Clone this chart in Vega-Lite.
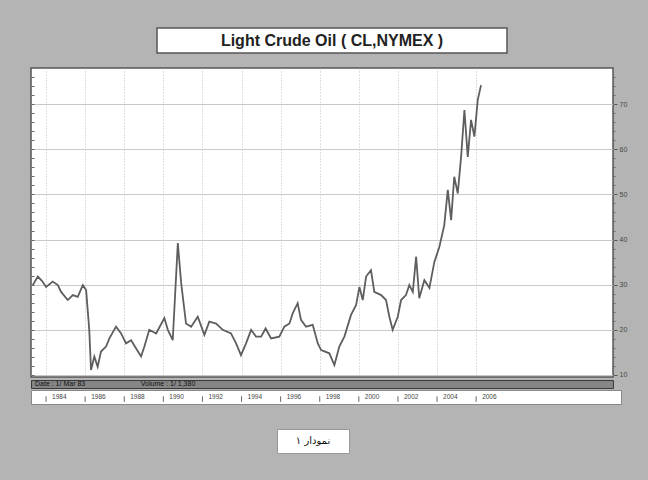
{
  "$schema": "https://vega.github.io/schema/vega-lite/v6.json",
  "background": "#b4b4b4",
  "padding": {"left": 28, "top": 27, "right": 24, "bottom": 27},
  "config": {"font": "Liberation Sans", "view": {"stroke": null}},
  "datasets": {
    "title": [{"label": "Light Crude Oil ( CL,NYMEX )"}],
    "caption": [{"label": "نمودار ۱"}],
    "status": [{"seg": "a", "label": "Date :  1/ Mar 83"}, {"seg": "c", "label": "Volume :  1/ 1,380"}],
    "years": [
      {"year": 1984, "label": "1984"}, {"year": 1986, "label": "1986"}, {"year": 1988, "label": "1988"},
      {"year": 1990, "label": "1990"}, {"year": 1992, "label": "1992"}, {"year": 1994, "label": "1994"},
      {"year": 1996, "label": "1996"}, {"year": 1998, "label": "1998"}, {"year": 2000, "label": "2000"},
      {"year": 2002, "label": "2002"}, {"year": 2004, "label": "2004"}, {"year": 2006, "label": "2006"}
    ],
    "oil": [
      {"t": 1983.32, "p": 29.9}, {"t": 1983.58, "p": 31.8}, {"t": 1983.80, "p": 30.8}, {"t": 1984.00, "p": 29.5},
      {"t": 1984.34, "p": 30.7}, {"t": 1984.60, "p": 29.9}, {"t": 1984.77, "p": 28.4}, {"t": 1985.11, "p": 26.6},
      {"t": 1985.37, "p": 27.7}, {"t": 1985.62, "p": 27.3}, {"t": 1985.88, "p": 29.9}, {"t": 1986.05, "p": 28.8},
      {"t": 1986.21, "p": 20.0}, {"t": 1986.30, "p": 11.1}, {"t": 1986.47, "p": 14.1}, {"t": 1986.64, "p": 11.8},
      {"t": 1986.81, "p": 15.2}, {"t": 1987.07, "p": 16.3}, {"t": 1987.24, "p": 18.1}, {"t": 1987.58, "p": 20.7},
      {"t": 1987.84, "p": 19.2}, {"t": 1988.09, "p": 17.0}, {"t": 1988.35, "p": 17.7}, {"t": 1988.60, "p": 15.9},
      {"t": 1988.86, "p": 14.1}, {"t": 1989.03, "p": 16.3}, {"t": 1989.28, "p": 20.0}, {"t": 1989.63, "p": 19.2},
      {"t": 1990.05, "p": 22.6}, {"t": 1990.23, "p": 20.0}, {"t": 1990.48, "p": 17.7}, {"t": 1990.74, "p": 39.2},
      {"t": 1990.91, "p": 30.4}, {"t": 1991.16, "p": 21.4}, {"t": 1991.42, "p": 20.7}, {"t": 1991.76, "p": 22.9},
      {"t": 1992.10, "p": 18.9}, {"t": 1992.35, "p": 21.8}, {"t": 1992.70, "p": 21.4}, {"t": 1993.04, "p": 20.0},
      {"t": 1993.46, "p": 19.2}, {"t": 1993.72, "p": 17.0}, {"t": 1993.97, "p": 14.4}, {"t": 1994.23, "p": 17.0},
      {"t": 1994.49, "p": 20.0}, {"t": 1994.74, "p": 18.5}, {"t": 1995.00, "p": 18.5}, {"t": 1995.23, "p": 20.3},
      {"t": 1995.51, "p": 18.1}, {"t": 1995.93, "p": 18.5}, {"t": 1996.19, "p": 20.7}, {"t": 1996.45, "p": 21.4},
      {"t": 1996.62, "p": 23.7}, {"t": 1996.87, "p": 25.9}, {"t": 1997.04, "p": 22.2}, {"t": 1997.30, "p": 20.7},
      {"t": 1997.64, "p": 21.1}, {"t": 1997.90, "p": 17.0}, {"t": 1998.07, "p": 15.5}, {"t": 1998.49, "p": 14.8},
      {"t": 1998.75, "p": 12.2}, {"t": 1999.00, "p": 16.3}, {"t": 1999.26, "p": 18.5}, {"t": 1999.60, "p": 23.3},
      {"t": 1999.86, "p": 25.5}, {"t": 2000.03, "p": 29.5}, {"t": 2000.20, "p": 26.6}, {"t": 2000.37, "p": 31.8},
      {"t": 2000.62, "p": 33.2}, {"t": 2000.79, "p": 28.4}, {"t": 2001.14, "p": 27.7}, {"t": 2001.39, "p": 26.6},
      {"t": 2001.56, "p": 22.9}, {"t": 2001.73, "p": 20.0}, {"t": 2001.99, "p": 22.9}, {"t": 2002.16, "p": 26.6},
      {"t": 2002.41, "p": 27.7}, {"t": 2002.58, "p": 29.9}, {"t": 2002.76, "p": 28.4}, {"t": 2002.93, "p": 36.2},
      {"t": 2003.09, "p": 27.0}, {"t": 2003.35, "p": 31.0}, {"t": 2003.61, "p": 29.3}, {"t": 2003.86, "p": 35.0},
      {"t": 2004.12, "p": 38.4}, {"t": 2004.37, "p": 43.2}, {"t": 2004.55, "p": 51.0}, {"t": 2004.72, "p": 44.3},
      {"t": 2004.88, "p": 53.9}, {"t": 2005.06, "p": 50.2}, {"t": 2005.23, "p": 58.3}, {"t": 2005.40, "p": 68.7},
      {"t": 2005.57, "p": 58.3}, {"t": 2005.74, "p": 66.5}, {"t": 2005.91, "p": 62.8}, {"t": 2006.08, "p": 70.9},
      {"t": 2006.25, "p": 74.2}
    ]
  },
  "spacing": 0,
  "vconcat": [
    {
      "spacing": 124,
      "hconcat": [
        {"width": 1, "height": 25, "data": {"values": [{"k": 0}]}, "mark": {"type": "point", "size": 0, "strokeWidth": 0, "opacity": 0}, "encoding": {"x": {"field": "k", "type": "quantitative", "axis": null}}},
        {
          "width": 350, "height": 25,
          "view": {"fill": "white", "stroke": "#555", "strokeWidth": 1.5},
          "data": {"name": "title"},
          "mark": {"type": "text", "font": "Liberation Sans", "fontWeight": "bold", "fontSize": 16, "color": "#222"},
          "encoding": {"text": {"field": "label"}}
        }
      ]
    },
    {"width": 1, "height": 13, "data": {"values": [{"k": 0}]}, "mark": {"type": "point", "size": 0, "strokeWidth": 0, "opacity": 0}, "encoding": {"y": {"field": "k", "type": "quantitative", "axis": null}}},
    {
      "width": 582, "height": 309,
      "view": {"fill": "white", "stroke": "#555", "strokeWidth": 1.5},
      "data": {"name": "oil"},
      "layer": [
        {
          "mark": {"type": "line", "color": "#5e5e5e", "strokeWidth": 1.8},
          "encoding": {
            "x": {"field": "t", "type": "quantitative",
              "scale": {"domain": [1983.23, 2013.0], "nice": false, "zero": false},
              "axis": {"orient": "bottom", "values": [1984,1985,1986,1987,1988,1989,1990,1991,1992,1993,1994,1995,1996,1997,1998,1999,2000,2001,2002,2003,2004,2005,2006],
                "grid": true, "gridColor": "#bdbdbd", "gridDash": [1, 2], "labels": false, "ticks": false, "domain": false, "title": null}},
            "y": {"field": "p", "type": "quantitative",
              "scale": {"domain": [9.55, 78], "nice": false, "zero": false},
              "axis": {"orient": "right", "values": [10, 20, 30, 40, 50, 60, 70], "grid": true, "gridColor": "#c8c8c8",
                "tickSize": 4, "tickColor": "#555", "labelFontSize": 7, "labelColor": "#444", "labelPadding": 2, "domain": false, "title": null}}
          }
        },
        {
          "mark": {"type": "point", "opacity": 0},
          "encoding": {
            "x": {"field": "t", "type": "quantitative"},
            "y": {"field": "p", "type": "quantitative",
              "axis": {"orient": "right", "values": [10,12,14,16,18,20,22,24,26,28,30,32,34,36,38,40,42,44,46,48,50,52,54,56,58,60,62,64,66,68,70,72,74,76],
                "grid": false, "labels": false, "tickSize": 2, "tickColor": "#666", "domain": false, "title": null}}
          }
        },
        {
          "mark": {"type": "point", "opacity": 0},
          "encoding": {
            "x": {"field": "t", "type": "quantitative"},
            "y": {"field": "p", "type": "quantitative",
              "axis": {"orient": "left", "offset": -3, "values": [10,12,14,16,18,20,22,24,26,28,30,32,34,36,38,40,42,44,46,48,50,52,54,56,58,60,62,64,66,68,70,72,74,76],
                "grid": false, "labels": false, "tickSize": 3, "tickColor": "#666", "domain": false, "title": null}}
          }
        }
      ],
      "resolve": {"axis": {"y": "independent"}}
    },
    {
      "width": 582, "height": 8,
      "view": {"fill": "#858585", "stroke": "#3a3a3a", "strokeWidth": 1},
      "data": {"name": "status"},
      "mark": {"type": "text", "align": "left", "baseline": "middle", "fontSize": 7, "color": "#111", "dx": 4},
      "encoding": {
        "x": {"field": "seg", "type": "nominal", "bandPosition": 0,
          "scale": {"type": "band", "domain": ["a","b","c","d","e","f","g","h","i","j","k"], "paddingInner": 0, "paddingOuter": 0},
          "axis": null},
        "text": {"field": "label"}
      }
    },
    {
      "width": 590, "height": 14,
      "view": {"fill": "white", "stroke": "#888", "strokeWidth": 1},
      "data": {"name": "years"},
      "layer": [
        {
          "mark": {"type": "rule", "color": "#666"},
          "encoding": {
            "x": {"field": "year", "type": "quantitative", "scale": {"domain": [1983.23, 2013.41], "nice": false, "zero": false}, "axis": null},
            "y": {"datum": 0.15, "type": "quantitative", "scale": {"domain": [0, 1]}, "axis": null},
            "y2": {"datum": 0.55}
          }
        },
        {
          "mark": {"type": "text", "align": "left", "baseline": "middle", "fontSize": 6.5, "color": "#444", "dx": 6},
          "encoding": {
            "x": {"field": "year", "type": "quantitative", "axis": null},
            "y": {"datum": 0.5, "type": "quantitative", "axis": null},
            "text": {"field": "label"}
          }
        }
      ]
    },
    {"width": 1, "height": 23, "data": {"values": [{"k": 0}]}, "mark": {"type": "point", "size": 0, "strokeWidth": 0, "opacity": 0}, "encoding": {"y": {"field": "k", "type": "quantitative", "axis": null}}},
    {
      "spacing": 244,
      "hconcat": [
        {"width": 1, "height": 24, "data": {"values": [{"k": 0}]}, "mark": {"type": "point", "size": 0, "strokeWidth": 0, "opacity": 0}, "encoding": {"x": {"field": "k", "type": "quantitative", "axis": null}}},
        {
          "width": 72, "height": 24,
          "view": {"fill": "white", "stroke": "#999", "strokeWidth": 1},
          "data": {"name": "caption"},
          "mark": {"type": "text", "font": "DejaVu Sans", "fontSize": 10, "color": "#111"},
          "encoding": {"text": {"field": "label"}}
        }
      ]
    }
  ]
}
